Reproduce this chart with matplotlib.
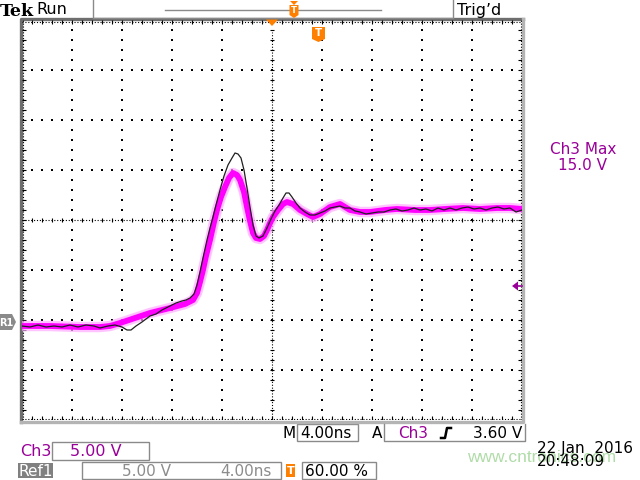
import matplotlib
matplotlib.use("Agg")
import matplotlib.pyplot as plt
from matplotlib.patches import Polygon, Rectangle
import numpy as np

# Ch3 trace (ns, V)
ch3_t = [-20.0, -17.76, -15.36, -13.76, -12.96, -12.16, -10.96, -9.76, -8.16, -6.96,
         -6.32, -6.0, -5.76, -5.52, -5.28, -4.96, -4.64, -4.4, -4.08, -3.76,
         -3.44, -3.12, -2.8, -2.56, -2.24, -2.0, -1.76, -1.52, -1.28, -0.96,
         -0.64, -0.4, -0.16, 0.08, 0.48, 0.88, 1.2, 1.68, 2.24, 2.8,
         3.28, 3.84, 4.64, 5.44, 6.24, 7.04, 7.84, 9.04, 10.0, 11.44,
         12.64, 13.84, 15.28, 16.64, 18.0, 19.04, 20.0]
ch3_v = [-0.6, -0.6, -0.7, -0.7, -0.6, -0.3, 0.2, 0.7, 1.2, 1.6,
         2.0, 2.7, 3.8, 5.0, 6.4, 8.0, 9.8, 11.0, 12.3, 13.3,
         14.2, 14.7, 14.5, 14.0, 12.8, 11.3, 9.9, 8.7, 8.2, 8.1,
         8.4, 9.0, 9.7, 10.3, 11.0, 11.6, 11.8, 11.6, 11.0, 10.6,
         10.3, 10.6, 11.3, 11.6, 11.0, 10.8, 10.8, 11.0, 11.1, 11.0,
         11.0, 11.1, 11.2, 11.1, 11.2, 11.2, 11.1]

# Ref1 trace (ns, V)
ref_t = [-20.0, -19.36, -18.72, -18.08, -17.44, -16.8, -16.16, -15.52, -14.88, -14.24,
         -13.76, -13.12, -12.56, -12.0, -11.6, -11.28, -10.88, -10.4, -9.76, -9.28,
         -8.8, -8.16, -7.68, -7.2, -6.88, -6.56, -6.24, -6.0, -5.76, -5.52,
         -5.2, -4.96, -4.72, -4.48, -4.16, -3.84, -3.52, -3.2, -2.96, -2.72,
         -2.48, -2.24, -2.0, -1.76, -1.52, -1.28, -1.04, -0.72, -0.4, -0.08,
         0.24, 0.56, 0.88, 1.12, 1.36, 1.6, 1.92, 2.24, 2.64, 3.04,
         3.44, 3.84, 4.24, 4.64, 5.04, 5.44, 5.84, 6.24, 6.64, 7.04,
         7.52, 8.0, 8.48, 8.96, 9.44, 9.92, 10.4, 10.88, 11.36, 11.84,
         12.32, 12.8, 13.28, 13.76, 14.24, 14.72, 15.2, 15.68, 16.16, 16.64,
         17.12, 17.6, 18.08, 18.56, 19.04, 19.52, 20.0]
ref_v = [-0.6, -0.7, -0.5, -0.7, -0.6, -0.7, -0.5, -0.7, -0.5, -0.6,
         -0.8, -0.6, -0.5, -0.7, -1.0, -1.0, -0.6, -0.2, 0.4, 0.6,
         1.0, 1.4, 1.7, 1.9, 2.0, 2.2, 2.6, 3.5, 4.8, 6.2,
         8.0, 9.2, 10.3, 11.5, 13.0, 14.4, 15.5, 16.2, 16.7, 16.6,
         16.2, 15.0, 13.2, 11.3, 9.5, 8.4, 8.2, 8.4, 9.2, 10.1,
         10.9, 11.5, 12.2, 12.7, 12.7, 12.3, 11.7, 11.2, 10.8, 10.5,
         10.5, 10.7, 10.9, 11.2, 11.3, 11.4, 11.2, 11.2, 10.9, 10.8,
         10.6, 10.7, 10.8, 10.8, 11.0, 11.1, 10.9, 11.0, 11.2, 11.0,
         11.1, 10.9, 11.2, 11.0, 11.2, 11.0, 11.2, 11.3, 11.1, 11.2,
         11.0, 11.2, 11.3, 11.1, 11.2, 10.8, 11.0]

PURPLE = "#990099"
ORANGE = "#ff7f00"
GREY = "#8a8a8a"

fig = plt.figure(figsize=(6.4, 4.8), dpi=100)

# background layer in pixel coordinates (y down)
bg = fig.add_axes([0, 0, 1, 1])
bg.set_xlim(0, 640)
bg.set_ylim(480, 0)
bg.axis("off")

# scope screen: 500x400 px, 4 ns/div, 5 V/div
ax = fig.add_axes([22 / 640, 60 / 480, 500 / 640, 400 / 480])
ax.set_xlim(-20, 20)
ax.set_ylim(-10, 30)
ax.axis("off")
ax.patch.set_alpha(0)

# top layer for markers that sit over the screen
fg = fig.add_axes([0, 0, 1, 1])
fg.set_xlim(0, 640)
fg.set_ylim(480, 0)
fg.axis("off")
fg.patch.set_alpha(0)

# graticule dots
xmaj = [-16, -12, -8, -4, 4, 8, 12, 16]
ymaj = [-5, 0, 5, 15, 20, 25]
ydots = np.arange(-9, 30, 1.0)
xdots = np.arange(-19.2, 20, 0.8)
for x in xmaj:
    ax.scatter(np.full(len(ydots), x), ydots, s=1.3, marker="s", color="k", lw=0, zorder=1)
for y in ymaj:
    ax.scatter(xdots, np.full(len(xdots), y), s=1.3, marker="s", color="k", lw=0, zorder=1)

# centre cross and edge rulers
ax.plot([0, 0], [-10, 28.8], color="k", lw=0.8, ls=(0, (1, 1.6)), zorder=1)
ax.plot([-20, 20], [10, 10], color="k", lw=0.8, ls=(0, (1, 1.6)), zorder=1)
ax.vlines(xdots, 9.8, 10.2, color="k", lw=0.8, zorder=1)
ax.hlines(ydots, -0.16, 0.16, color="k", lw=0.8, zorder=1)
ax.plot([-20, 20], [29.85, 29.85], color="k", lw=0.8, ls=(0, (1, 1.6)), zorder=1)
ax.plot([-20, 20], [-9.85, -9.85], color="k", lw=0.8, ls=(0, (1, 1.6)), zorder=1)
ax.plot([-19.9, -19.9], [-10, 30], color="k", lw=0.8, ls=(0, (1, 1.6)), zorder=1)
ax.plot([19.9, 19.9], [-10, 30], color="k", lw=0.8, ls=(0, (1, 1.6)), zorder=1)
ax.vlines(xdots, 29.6, 30, color="k", lw=0.8, zorder=1)
ax.vlines(xdots, -10, -9.6, color="k", lw=0.8, zorder=1)
ax.hlines(ydots, -20, -19.7, color="k", lw=0.8, zorder=1)
ax.hlines(ydots, 19.7, 20, color="k", lw=0.8, zorder=1)

# traces
ax.plot(ch3_t, ch3_v, color="#ffaaff", lw=7.5, alpha=0.7, solid_capstyle="butt", zorder=3)
ax.plot(ch3_t, ch3_v, color="#ff00ff", lw=4.2, solid_capstyle="butt", zorder=4)
ax.plot(ref_t, ref_v, color="#202020", lw=0.9, zorder=5)

# screen border (bevelled)
bg.plot([20.5, 20.5, 523], [422, 18.5, 18.5], color="#6e6e6e", lw=2.4)
bg.plot([20.5, 523, 523], [422, 422, 18.5], color="#b4b4b4", lw=2.4)

# top status bar
bg.text(0, 11, "Tek", fontsize=12.5, fontweight="bold", family="DejaVu Serif",
        va="center", ha="left")
bg.text(36, 10, "Run", fontsize=11.5, va="center", ha="left")
bg.plot([93, 93, 453, 453], [0, 18, 18, 0], color=GREY, lw=1)
bg.plot([165, 381], [10, 10], color=GREY, lw=1)
bg.text(457, 10, "Trig\u2019d", fontsize=11.5, va="center", ha="left")


def shield(x0, x1, y0, y1, tip):
    fg.add_patch(Polygon([(x0, y0), (x1, y0), (x1, y1), ((x0 + x1) / 2, tip), (x0, y1)],
                         closed=True, color=ORANGE, lw=0, zorder=10))
    fg.text((x0 + x1) / 2, (y0 + y1) / 2 + 0.5, "T", color="white", fontsize=(y1 - y0) * 0.62,
            fontweight="bold", ha="center", va="center", zorder=11)


fg.add_patch(Polygon([(290, 1), (298, 1), (294, 5)], closed=True, color=ORANGE, lw=0, zorder=10))
shield(289.5, 298.5, 5, 15, 18)
shield(312, 325, 27, 39, 42)
fg.add_patch(Polygon([(266, 19.5), (278, 19.5), (272, 26)], closed=True, color=ORANGE, lw=0, zorder=10))

# R1 marker at left, trigger level arrow at right
bg.add_patch(Polygon([(0, 314), (12, 314), (16, 322), (12, 330), (0, 330)],
                     closed=True, color=GREY, lw=0))
bg.text(6, 322.5, "R1", color="white", fontsize=7, fontweight="bold",
        ha="center", va="center")
fg.add_patch(Polygon([(512, 286), (518, 281.5), (518, 290.5)], closed=True, color=PURPLE, lw=0))
fg.plot([517, 522], [286, 286], color=PURPLE, lw=1.2)

bg.text(583, 149, "Ch3 Max", color=PURPLE, fontsize=11, ha="center", va="center")
bg.text(583, 165, "15.0 V", color=PURPLE, fontsize=11, ha="center", va="center")

# bottom readouts
bg.text(283, 433, "M", fontsize=11, va="center", ha="left")
bg.add_patch(Rectangle((297, 424), 61, 17, fill=False, ec=GREY, lw=1))
bg.text(300, 433, "4.00ns", fontsize=11, va="center", ha="left")
bg.text(372, 433, "A", fontsize=11, va="center", ha="left")
bg.plot([384, 384, 525, 525], [424, 441, 441, 424], color=GREY, lw=1)
bg.text(398, 433, "Ch3", color=PURPLE, fontsize=11, va="center", ha="left")
bg.plot([441, 445, 447, 451], [438, 438, 428, 428], color="k", lw=1.8)
bg.text(522, 433, "3.60 V", fontsize=11, va="center", ha="right")

bg.text(20, 452, "Ch3", color=PURPLE, fontsize=11.5, va="center", ha="left")
bg.add_patch(Rectangle((52, 442), 97, 18, fill=False, ec=GREY, lw=1))
bg.text(70, 451, "5.00 V", color=PURPLE, fontsize=11.5, va="center", ha="left")

bg.add_patch(Rectangle((18, 463), 35, 15, color="#808080", lw=0))
bg.text(35.5, 471, "Ref1", color="white", fontsize=11, va="center", ha="center")
bg.add_patch(Rectangle((82, 462), 199, 17, fill=False, ec=GREY, lw=1))
bg.text(122, 471, "5.00 V", color="#8c8c8c", fontsize=11, va="center", ha="left")
bg.text(272, 471, "4.00ns", color="#8c8c8c", fontsize=11, va="center", ha="right")
bg.add_patch(Rectangle((286, 464), 9, 13, color=ORANGE, lw=0))
bg.text(290.5, 471, "T", color="white", fontsize=8, fontweight="bold", ha="center", va="center")
bg.add_patch(Rectangle((302, 462), 74, 17, fill=False, ec=GREY, lw=1))
bg.text(305, 471, "60.00 %", fontsize=11, va="center", ha="left")

# watermark sits under the time stamp, as on the screen capture
bg.text(467, 457, "www.cntronics.com", color="#b0dca8", fontsize=12.5,
        family="Liberation Sans", va="center", ha="left", zorder=0)
bg.text(537, 448, "22 Jan  2016", fontsize=11, va="center", ha="left")
bg.text(537, 462, "20:48:09", fontsize=11, va="center", ha="left")

fig.savefig("out.png", dpi=100)
